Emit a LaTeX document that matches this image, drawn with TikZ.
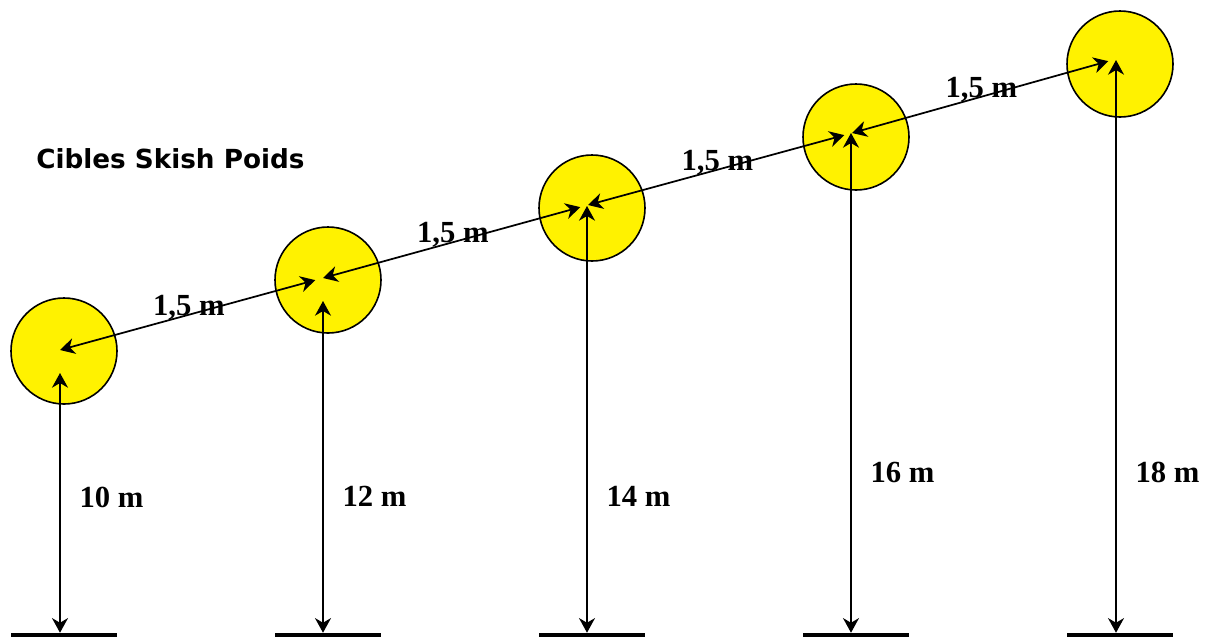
\documentclass[tikz,border=0pt]{standalone}
\usepackage{fontspec}
\setmainfont{Liberation Serif}
\newfontfamily\titlefont{DejaVu Sans}
\usetikzlibrary{arrows.meta,positioning,calc}

\begin{document}
\begin{tikzpicture}[
  x=0.75pt,y=-0.75pt,
  target/.style={circle,draw=black,fill=yellow,line width=1.2pt,
                 minimum size=79.5pt,inner sep=0pt},
  ground/.style={rectangle,fill=black,minimum width=79.5pt,
                 minimum height=3pt,inner sep=0pt},
  dist/.style={font=\fontsize{23}{27}\selectfont\bfseries,inner sep=0pt},
  ar/.style={{Stealth[length=11pt,width=12pt,inset=3.5pt]}-{Stealth[length=11pt,width=12pt,inset=3.5pt]},
             line width=1.3pt,draw=black}
]
\useasboundingbox (0,0) rectangle (1212,637);

\node[target] (c1) at (64,351) {};
\node[target] (c2) at (328,280) {};
\node[target] (c3) at (592,208) {};
\node[target] (c4) at (856,137) {};
\node[target] (c5) at (1120,64) {};

\node[ground] (g1) at (64,635) {};
\node[ground] (g2) at (328,635) {};
\node[ground] (g3) at (592,635) {};
\node[ground] (g4) at (856,635) {};
\node[ground] (g5) at (1120,635) {};

\coordinate (p1) at (60,350);
\coordinate (p2) at (323,278);
\coordinate (p3) at (588,205);
\coordinate (p4) at (852,133);
\coordinate (p5) at (1116,59);

\coordinate (t1) at (60,373);
\coordinate (t2) at (323,301);
\coordinate (t3) at (587,206);
\coordinate (t4) at (851,133);
\coordinate (t5) at (1116,60);

\node[font=\titlefont\fontsize{19.7}{23}\selectfont\bfseries,anchor=west,inner sep=0pt]
  (title) at (36,159) {Cibles Skish Poids};

\draw[ar,shorten >=6pt] (p1) -- node[dist,pos=0.49,yshift=5.5pt]{1,5 m} (p2);
\draw[ar,shorten >=6pt] (p2) -- node[dist,pos=0.49,yshift=5.5pt]{1,5 m} (p3);
\draw[ar,shorten >=6pt] (p3) -- node[dist,pos=0.49,yshift=5.5pt]{1,5 m} (p4);
\draw[ar,shorten >=6pt] (p4) -- node[dist,pos=0.49,yshift=5.5pt]{1,5 m} (p5);

\draw[ar] (g1.north -| t1) -- node[dist,right=14pt,pos=0.52]{10 m} (t1);
\draw[ar] (g2.north -| t2) -- node[dist,right=14pt,pos=0.41]{12 m} (t2);
\draw[ar] (g3.north -| t3) -- node[dist,right=14pt,pos=0.32]{14 m} (t3);
\draw[ar] (g4.north -| t4) -- node[dist,right=14pt,pos=0.32]{16 m} (t4);
\draw[ar] (g5.north -| t5) -- node[dist,right=14pt,pos=0.28]{18 m} (t5);
\end{tikzpicture}
\end{document}
